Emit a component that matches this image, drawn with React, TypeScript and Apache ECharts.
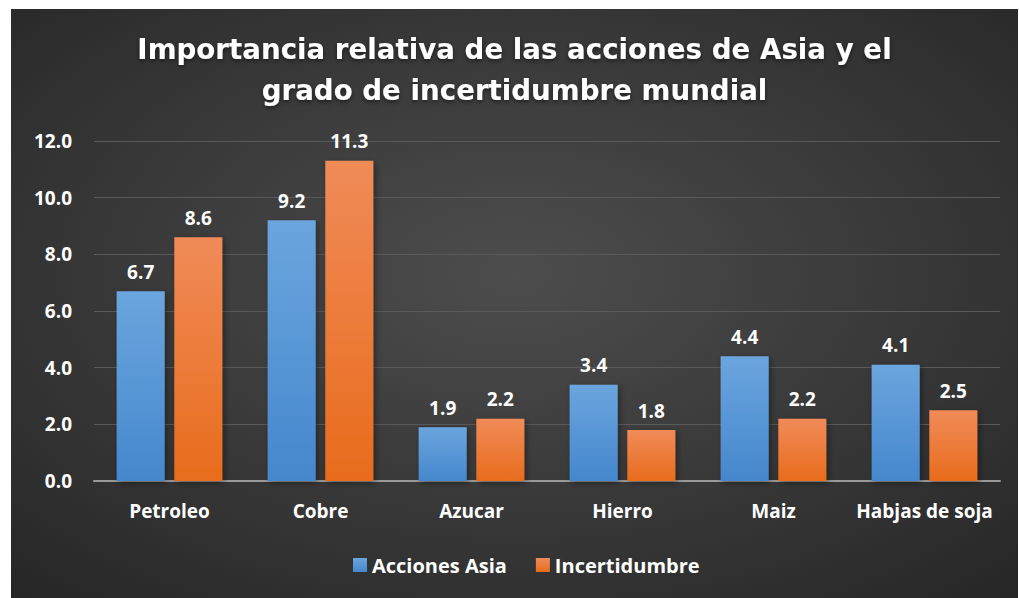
import React, { useEffect, useRef } from "react";
import * as echarts from "echarts";

const categories = ["Petroleo", "Cobre", "Azucar", "Hierro", "Maiz", "Habjas de soja"];
const accionesAsia = [6.7, 9.2, 1.9, 3.4, 4.4, 4.1];
const incertidumbre = [8.6, 11.3, 2.2, 1.8, 2.2, 2.5];
const titleText = "Importancia relativa de las acciones de Asia y el\ngrado de incertidumbre mundial";

const FONT = "'Open Sans', sans-serif";

export default function App() {
  const ref = useRef<HTMLDivElement>(null);
  useEffect(() => {
    if (!ref.current) return;
    const chart = echarts.init(ref.current, null, { renderer: "svg" });
    const blue = new echarts.graphic.LinearGradient(0, 0, 0, 1, [
      { offset: 0, color: "#6ba5de" },
      { offset: 1, color: "#4587cd" },
    ]);
    const orange = new echarts.graphic.LinearGradient(0, 0, 0, 1, [
      { offset: 0, color: "#f08b58" },
      { offset: 1, color: "#e86c1c" },
    ]);
    const labelStyle = {
      show: true,
      position: "top",
      distance: 10,
      color: "#ffffff",
      fontFamily: FONT,
      fontWeight: "bold",
      fontSize: 19,
      formatter: (p: any) => Number(p.value).toFixed(1),
    };
    chart.setOption({
      animation: false,
      backgroundColor: new echarts.graphic.RadialGradient(0.5, 0.45, 0.75, [
        { offset: 0, color: "#4d4d4d" },
        { offset: 1, color: "#262626" },
      ]),
      title: {
        text: titleText,
        left: "center",
        top: 15,
        textStyle: {
          color: "#ffffff",
          fontFamily: "'DejaVu Sans', sans-serif",
          fontWeight: "bold",
          fontSize: 27.7,
          lineHeight: 41,
          textShadowColor: "rgba(0,0,0,0.5)",
          textShadowBlur: 4,
          textShadowOffsetY: 2,
        },
      },
      legend: {
        bottom: 18,
        left: 337,
        icon: "rect",
        itemWidth: 14,
        itemHeight: 14,
        itemGap: 29,
        textStyle: { color: "#ffffff", fontFamily: FONT, fontWeight: "bold", fontSize: 20 },
        data: ["Acciones Asia", "Incertidumbre"],
      },
      grid: { left: 83, right: 18, top: 132, bottom: 117 },
      xAxis: {
        type: "category",
        data: categories,
        axisLine: { lineStyle: { color: "#9a9a9a", width: 2 } },
        axisTick: { show: false },
        axisLabel: {
          interval: 0,
          color: "#ffffff",
          fontFamily: FONT,
          fontWeight: "bold",
          fontSize: 19,
          margin: 20,
        },
      },
      yAxis: {
        type: "value",
        min: 0,
        max: 12,
        interval: 2,
        axisLine: { show: false },
        axisTick: { show: false },
        splitLine: { lineStyle: { color: "#5a5a5a", width: 1 } },
        axisLabel: {
          color: "#ffffff",
          fontFamily: FONT,
          fontWeight: "bold",
          fontSize: 19,
          margin: 22,
          formatter: (v: number) => v.toFixed(1),
        },
      },
      series: [
        {
          name: "Acciones Asia",
          type: "bar",
          data: accionesAsia,
          barGap: "20%",
          barCategoryGap: "30%",
          itemStyle: { color: blue, shadowColor: "rgba(0,0,0,0.4)", shadowBlur: 6, shadowOffsetX: 2, shadowOffsetY: 2 },
          label: labelStyle,
        },
        {
          name: "Incertidumbre",
          type: "bar",
          data: incertidumbre,
          barGap: "20%",
          barCategoryGap: "30%",
          itemStyle: { color: orange, shadowColor: "rgba(0,0,0,0.4)", shadowBlur: 6, shadowOffsetX: 2, shadowOffsetY: 2 },
          label: labelStyle,
        },
      ],
    });
    return () => chart.dispose();
  }, []);
  return (
    <div
      ref={ref}
      style={{ position: "absolute", left: 11, top: 9, width: 1007, height: 589 }}
    />
  );
}
